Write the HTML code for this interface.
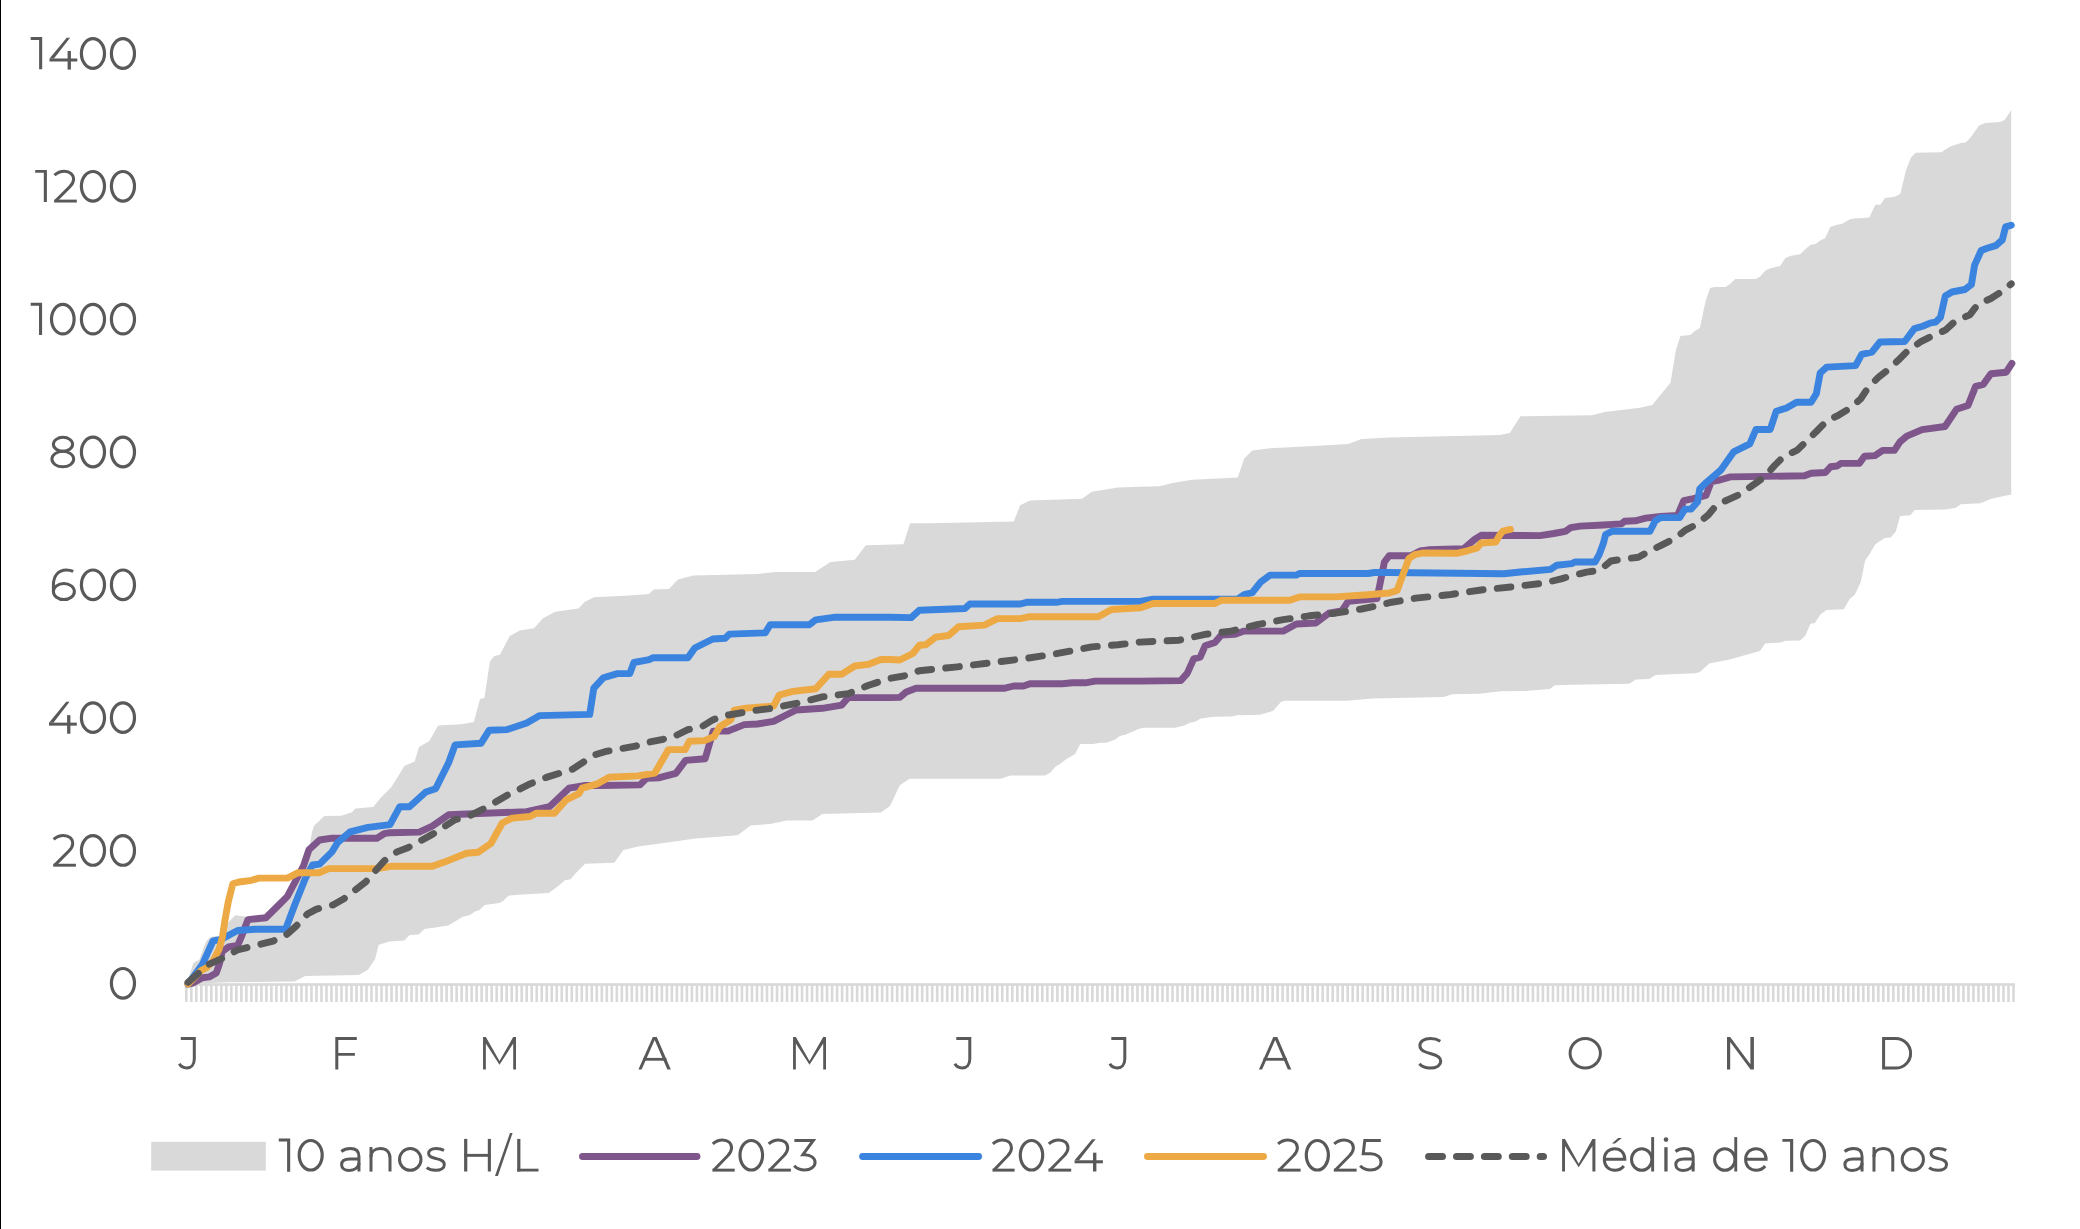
<!DOCTYPE html>
<html><head><meta charset="utf-8"><style>
html,body{margin:0;padding:0;background:#fff;}
body{width:2080px;height:1229px;overflow:hidden;position:relative;}
svg{position:absolute;left:0;top:0;display:block;}
text{font-family:"Liberation Sans",sans-serif;fill:#595959;}
</style></head><body>
<svg width="2080" height="1229" viewBox="0 0 2080 1229">
<rect x="0" y="0" width="2080" height="1229" fill="#fff"/>
<rect x="0" y="0" width="1" height="1229" fill="#000"/>

<polygon points="188.0,983.0 189.2,976.2 193.1,963.8 195.4,961.5 199.2,960.0 203.8,946.9 206.2,941.5 210.0,937.3 214.6,936.2 221.2,936.4 227.4,923.2 235.3,915.3 248.0,917.0 265.9,917.8 280.3,903.5 287.4,896.4 303.5,865.9 308.9,849.8 312.0,832.0 314.1,825.4 318.9,821.2 324.2,815.9 341.1,815.8 351.9,812.2 355.4,808.6 373.3,806.9 380.5,797.9 391.2,787.2 400.0,773.2 404.4,765.9 414.6,761.5 419.0,746.9 429.3,741.0 438.1,725.6 461.5,724.2 473.9,722.0 474.4,720.0 480.0,699.0 484.4,697.9 489.9,661.4 494.3,655.9 499.9,654.8 509.8,636.0 519.8,630.5 534.1,628.3 543.0,618.3 555.1,611.7 578.4,608.4 585.0,601.7 593.8,597.3 629.2,595.5 649.1,594.0 653.5,589.6 669.0,588.9 677.9,579.6 693.4,575.6 757.5,574.1 775.2,571.9 815.0,571.9 830.5,561.9 854.8,559.7 865.8,545.3 903.4,544.2 910.1,523.2 930.0,523.2 1013.7,521.6 1020.2,505.3 1030.0,500.5 1082.1,498.8 1091.8,491.7 1117.9,487.4 1140.0,486.8 1159.5,486.3 1172.6,483.0 1192.1,479.8 1237.7,477.5 1244.2,458.6 1252.3,450.5 1270.2,448.2 1309.3,446.2 1348.3,443.9 1361.4,439.1 1390.0,437.4 1500.0,435.1 1509.8,433.0 1520.5,416.3 1591.8,415.2 1604.8,411.9 1640.0,407.7 1652.2,405.1 1670.5,382.7 1675.9,350.0 1680.5,335.9 1690.2,335.1 1695.3,330.7 1699.9,327.9 1705.6,301.1 1710.1,288.0 1714.7,287.1 1725.5,287.1 1730.0,284.0 1735.2,278.9 1755.7,278.9 1760.2,276.6 1765.4,270.4 1770.5,268.3 1780.2,266.0 1785.3,258.1 1791.0,255.8 1800.1,254.2 1805.8,248.7 1810.3,245.1 1815.5,243.9 1820.6,240.2 1825.1,238.2 1830.3,227.1 1836.0,225.0 1842.2,223.7 1850.2,219.3 1855.9,218.2 1860.0,218.2 1869.3,217.5 1875.4,204.7 1880.3,204.7 1885.1,198.0 1894.9,196.8 1900.4,193.7 1905.9,170.5 1910.8,157.7 1915.7,152.8 1941.3,152.2 1949.8,146.7 1960.8,143.1 1965.7,142.5 1970.6,137.6 1979.1,125.4 1985.2,122.9 1999.9,122.0 2004.7,119.9 2011.2,110.1 2011.2,494.8 2006.0,495.6 1990.6,499.0 1980.4,503.3 1960.7,504.2 1955.6,507.9 1945.3,509.6 1914.6,510.1 1910.3,515.3 1900.1,516.1 1895.8,531.5 1890.7,537.5 1884.7,538.0 1875.3,544.3 1869.3,554.6 1865.1,560.5 1860.8,581.9 1854.8,594.7 1849.7,599.0 1843.7,609.2 1826.6,610.1 1820.6,614.3 1814.7,622.9 1810.4,623.7 1805.3,635.7 1800.1,640.5 1785.6,640.8 1780.5,642.5 1765.1,643.4 1760.0,651.1 1729.5,659.4 1709.2,663.5 1700.0,672.1 1695.5,673.2 1671.2,674.3 1655.7,674.9 1649.1,678.9 1635.8,679.4 1629.2,683.8 1571.7,684.7 1555.1,685.3 1549.6,689.1 1525.3,690.9 1501.0,691.3 1478.8,693.7 1452.3,694.2 1443.4,697.1 1372.7,698.6 1346.1,700.8 1284.2,700.8 1280.9,701.9 1273.2,710.8 1259.9,714.7 1240.0,715.2 1239.4,714.8 1231.0,716.4 1214.0,716.7 1204.5,718.0 1200.3,718.8 1195.0,721.7 1189.7,722.7 1184.4,725.6 1174.9,727.7 1144.2,727.7 1140.0,728.6 1125.2,734.7 1119.9,736.0 1114.6,739.7 1106.2,742.8 1099.8,742.8 1093.5,743.9 1080.2,743.9 1075.0,753.9 1066.0,759.2 1060.7,763.5 1055.4,766.8 1050.1,772.8 1044.8,775.6 1010.4,775.5 1000.7,778.8 909.5,778.8 899.8,785.3 890.0,806.0 880.9,812.5 822.3,814.1 812.5,820.6 786.5,820.6 770.2,823.9 750.7,825.5 737.7,835.3 695.3,838.5 672.5,841.8 638.1,846.4 623.4,850.0 614.3,862.8 585.1,863.7 575.9,872.9 570.5,879.3 565.0,880.2 557.7,886.6 548.5,893.0 517.5,894.8 508.4,895.7 502.9,901.2 499.2,903.0 484.6,904.9 479.1,910.3 475.5,911.2 470.0,914.9 462.7,916.7 455.4,921.3 448.1,925.5 437.1,927.3 424.3,929.1 418.8,934.6 409.7,935.0 404.2,940.5 389.6,941.4 378.7,944.7 375.1,959.0 368.0,969.8 359.0,975.1 305.3,976.0 294.6,981.4 228.3,982.3 188.0,984.0" fill="#D9D9D9"/>
<rect x="185" y="983.2" width="1830" height="2.6" fill="#D9D9D9"/>
<path d="M186.30 985V1001.9M191.31 985V1001.9M196.31 985V1001.9M201.32 985V1001.9M206.32 985V1001.9M211.33 985V1001.9M216.34 985V1001.9M221.34 985V1001.9M226.35 985V1001.9M231.35 985V1001.9M236.36 985V1001.9M241.37 985V1001.9M246.37 985V1001.9M251.38 985V1001.9M256.38 985V1001.9M261.39 985V1001.9M266.40 985V1001.9M271.40 985V1001.9M276.41 985V1001.9M281.41 985V1001.9M286.42 985V1001.9M291.43 985V1001.9M296.43 985V1001.9M301.44 985V1001.9M306.44 985V1001.9M311.45 985V1001.9M316.46 985V1001.9M321.46 985V1001.9M326.47 985V1001.9M331.47 985V1001.9M336.48 985V1001.9M341.49 985V1001.9M346.49 985V1001.9M351.50 985V1001.9M356.50 985V1001.9M361.51 985V1001.9M366.52 985V1001.9M371.52 985V1001.9M376.53 985V1001.9M381.54 985V1001.9M386.54 985V1001.9M391.55 985V1001.9M396.55 985V1001.9M401.56 985V1001.9M406.57 985V1001.9M411.57 985V1001.9M416.58 985V1001.9M421.58 985V1001.9M426.59 985V1001.9M431.60 985V1001.9M436.60 985V1001.9M441.61 985V1001.9M446.61 985V1001.9M451.62 985V1001.9M456.63 985V1001.9M461.63 985V1001.9M466.64 985V1001.9M471.64 985V1001.9M476.65 985V1001.9M481.66 985V1001.9M486.66 985V1001.9M491.67 985V1001.9M496.67 985V1001.9M501.68 985V1001.9M506.69 985V1001.9M511.69 985V1001.9M516.70 985V1001.9M521.70 985V1001.9M526.71 985V1001.9M531.72 985V1001.9M536.72 985V1001.9M541.73 985V1001.9M546.73 985V1001.9M551.74 985V1001.9M556.75 985V1001.9M561.75 985V1001.9M566.76 985V1001.9M571.76 985V1001.9M576.77 985V1001.9M581.78 985V1001.9M586.78 985V1001.9M591.79 985V1001.9M596.79 985V1001.9M601.80 985V1001.9M606.81 985V1001.9M611.81 985V1001.9M616.82 985V1001.9M621.82 985V1001.9M626.83 985V1001.9M631.84 985V1001.9M636.84 985V1001.9M641.85 985V1001.9M646.85 985V1001.9M651.86 985V1001.9M656.87 985V1001.9M661.87 985V1001.9M666.88 985V1001.9M671.88 985V1001.9M676.89 985V1001.9M681.90 985V1001.9M686.90 985V1001.9M691.91 985V1001.9M696.91 985V1001.9M701.92 985V1001.9M706.93 985V1001.9M711.93 985V1001.9M716.94 985V1001.9M721.94 985V1001.9M726.95 985V1001.9M731.96 985V1001.9M736.96 985V1001.9M741.97 985V1001.9M746.98 985V1001.9M751.98 985V1001.9M756.99 985V1001.9M761.99 985V1001.9M767.00 985V1001.9M772.01 985V1001.9M777.01 985V1001.9M782.02 985V1001.9M787.02 985V1001.9M792.03 985V1001.9M797.04 985V1001.9M802.04 985V1001.9M807.05 985V1001.9M812.05 985V1001.9M817.06 985V1001.9M822.07 985V1001.9M827.07 985V1001.9M832.08 985V1001.9M837.08 985V1001.9M842.09 985V1001.9M847.10 985V1001.9M852.10 985V1001.9M857.11 985V1001.9M862.11 985V1001.9M867.12 985V1001.9M872.13 985V1001.9M877.13 985V1001.9M882.14 985V1001.9M887.14 985V1001.9M892.15 985V1001.9M897.16 985V1001.9M902.16 985V1001.9M907.17 985V1001.9M912.17 985V1001.9M917.18 985V1001.9M922.19 985V1001.9M927.19 985V1001.9M932.20 985V1001.9M937.20 985V1001.9M942.21 985V1001.9M947.22 985V1001.9M952.22 985V1001.9M957.23 985V1001.9M962.23 985V1001.9M967.24 985V1001.9M972.25 985V1001.9M977.25 985V1001.9M982.26 985V1001.9M987.26 985V1001.9M992.27 985V1001.9M997.28 985V1001.9M1002.28 985V1001.9M1007.29 985V1001.9M1012.29 985V1001.9M1017.30 985V1001.9M1022.31 985V1001.9M1027.31 985V1001.9M1032.32 985V1001.9M1037.32 985V1001.9M1042.33 985V1001.9M1047.34 985V1001.9M1052.34 985V1001.9M1057.35 985V1001.9M1062.35 985V1001.9M1067.36 985V1001.9M1072.37 985V1001.9M1077.37 985V1001.9M1082.38 985V1001.9M1087.38 985V1001.9M1092.39 985V1001.9M1097.40 985V1001.9M1102.40 985V1001.9M1107.41 985V1001.9M1112.42 985V1001.9M1117.42 985V1001.9M1122.43 985V1001.9M1127.43 985V1001.9M1132.44 985V1001.9M1137.45 985V1001.9M1142.45 985V1001.9M1147.46 985V1001.9M1152.46 985V1001.9M1157.47 985V1001.9M1162.48 985V1001.9M1167.48 985V1001.9M1172.49 985V1001.9M1177.49 985V1001.9M1182.50 985V1001.9M1187.51 985V1001.9M1192.51 985V1001.9M1197.52 985V1001.9M1202.52 985V1001.9M1207.53 985V1001.9M1212.54 985V1001.9M1217.54 985V1001.9M1222.55 985V1001.9M1227.55 985V1001.9M1232.56 985V1001.9M1237.57 985V1001.9M1242.57 985V1001.9M1247.58 985V1001.9M1252.58 985V1001.9M1257.59 985V1001.9M1262.60 985V1001.9M1267.60 985V1001.9M1272.61 985V1001.9M1277.61 985V1001.9M1282.62 985V1001.9M1287.63 985V1001.9M1292.63 985V1001.9M1297.64 985V1001.9M1302.64 985V1001.9M1307.65 985V1001.9M1312.66 985V1001.9M1317.66 985V1001.9M1322.67 985V1001.9M1327.67 985V1001.9M1332.68 985V1001.9M1337.69 985V1001.9M1342.69 985V1001.9M1347.70 985V1001.9M1352.70 985V1001.9M1357.71 985V1001.9M1362.72 985V1001.9M1367.72 985V1001.9M1372.73 985V1001.9M1377.73 985V1001.9M1382.74 985V1001.9M1387.75 985V1001.9M1392.75 985V1001.9M1397.76 985V1001.9M1402.76 985V1001.9M1407.77 985V1001.9M1412.78 985V1001.9M1417.78 985V1001.9M1422.79 985V1001.9M1427.79 985V1001.9M1432.80 985V1001.9M1437.81 985V1001.9M1442.81 985V1001.9M1447.82 985V1001.9M1452.82 985V1001.9M1457.83 985V1001.9M1462.84 985V1001.9M1467.84 985V1001.9M1472.85 985V1001.9M1477.86 985V1001.9M1482.86 985V1001.9M1487.87 985V1001.9M1492.87 985V1001.9M1497.88 985V1001.9M1502.89 985V1001.9M1507.89 985V1001.9M1512.90 985V1001.9M1517.90 985V1001.9M1522.91 985V1001.9M1527.92 985V1001.9M1532.92 985V1001.9M1537.93 985V1001.9M1542.93 985V1001.9M1547.94 985V1001.9M1552.95 985V1001.9M1557.95 985V1001.9M1562.96 985V1001.9M1567.96 985V1001.9M1572.97 985V1001.9M1577.98 985V1001.9M1582.98 985V1001.9M1587.99 985V1001.9M1592.99 985V1001.9M1598.00 985V1001.9M1603.01 985V1001.9M1608.01 985V1001.9M1613.02 985V1001.9M1618.02 985V1001.9M1623.03 985V1001.9M1628.04 985V1001.9M1633.04 985V1001.9M1638.05 985V1001.9M1643.05 985V1001.9M1648.06 985V1001.9M1653.07 985V1001.9M1658.07 985V1001.9M1663.08 985V1001.9M1668.08 985V1001.9M1673.09 985V1001.9M1678.10 985V1001.9M1683.10 985V1001.9M1688.11 985V1001.9M1693.11 985V1001.9M1698.12 985V1001.9M1703.13 985V1001.9M1708.13 985V1001.9M1713.14 985V1001.9M1718.14 985V1001.9M1723.15 985V1001.9M1728.16 985V1001.9M1733.16 985V1001.9M1738.17 985V1001.9M1743.17 985V1001.9M1748.18 985V1001.9M1753.19 985V1001.9M1758.19 985V1001.9M1763.20 985V1001.9M1768.20 985V1001.9M1773.21 985V1001.9M1778.22 985V1001.9M1783.22 985V1001.9M1788.23 985V1001.9M1793.23 985V1001.9M1798.24 985V1001.9M1803.25 985V1001.9M1808.25 985V1001.9M1813.26 985V1001.9M1818.26 985V1001.9M1823.27 985V1001.9M1828.28 985V1001.9M1833.28 985V1001.9M1838.29 985V1001.9M1843.30 985V1001.9M1848.30 985V1001.9M1853.31 985V1001.9M1858.31 985V1001.9M1863.32 985V1001.9M1868.33 985V1001.9M1873.33 985V1001.9M1878.34 985V1001.9M1883.34 985V1001.9M1888.35 985V1001.9M1893.36 985V1001.9M1898.36 985V1001.9M1903.37 985V1001.9M1908.37 985V1001.9M1913.38 985V1001.9M1918.39 985V1001.9M1923.39 985V1001.9M1928.40 985V1001.9M1933.40 985V1001.9M1938.41 985V1001.9M1943.42 985V1001.9M1948.42 985V1001.9M1953.43 985V1001.9M1958.43 985V1001.9M1963.44 985V1001.9M1968.45 985V1001.9M1973.45 985V1001.9M1978.46 985V1001.9M1983.46 985V1001.9M1988.47 985V1001.9M1993.48 985V1001.9M1998.48 985V1001.9M2003.49 985V1001.9M2008.49 985V1001.9M2013.50 985V1001.9" stroke="#D9D9D9" stroke-width="2.6" fill="none"/>
<polyline points="188.0,984.0 193.0,983.0 202.3,977.7 209.2,976.9 216.2,973.0 219.2,964.6 222.3,951.5 228.5,946.9 237.7,945.4 242.3,934.6 248.0,919.6 265.9,917.8 280.3,903.5 287.4,896.4 303.5,865.9 308.9,849.8 319.6,840.0 332.2,838.2 376.9,838.2 384.1,833.7 390.0,832.7 419.3,832.1 432.3,826.2 448.6,814.8 526.7,811.6 549.5,806.7 569.0,788.2 585.3,785.5 601.6,785.5 640.0,784.9 646.5,778.3 659.5,777.7 675.8,773.4 685.6,760.4 705.1,758.8 713.2,731.1 727.9,731.1 744.2,724.6 757.2,724.0 773.5,721.4 783.2,716.5 796.2,710.0 822.3,708.3 841.8,705.1 848.3,697.6 890.0,697.6 899.8,697.4 906.3,691.9 916.0,688.3 1003.9,688.3 1013.7,686.0 1023.5,686.0 1030.0,683.7 1062.5,683.7 1072.3,682.8 1085.3,682.8 1095.1,681.1 1140.0,681.1 1180.7,680.6 1187.2,673.4 1193.7,658.8 1200.2,657.2 1205.1,645.8 1214.9,642.5 1221.4,635.0 1234.4,634.4 1244.2,631.1 1283.2,631.1 1296.3,624.0 1315.8,623.0 1328.8,613.2 1341.8,610.9 1348.3,601.2 1377.0,598.6 1384.4,562.0 1389.3,555.7 1410.8,555.7 1420.0,551.0 1428.4,549.8 1463.5,548.8 1474.6,539.5 1481.1,535.3 1540.0,535.6 1553.7,533.5 1565.4,531.3 1570.7,527.6 1580.2,526.1 1603.5,525.0 1621.4,523.9 1624.6,521.3 1635.2,520.8 1645.8,518.1 1660.6,516.5 1677.5,515.5 1683.8,500.7 1693.4,498.6 1706.0,495.4 1711.3,481.6 1719.8,480.0 1730.4,476.9 1804.6,475.8 1811.1,473.2 1825.4,472.5 1830.6,466.7 1837.1,466.0 1841.0,463.4 1859.3,463.4 1864.5,456.3 1874.9,455.6 1882.7,450.4 1894.4,450.4 1900.0,441.9 1906.8,436.1 1922.1,429.6 1945.0,426.5 1956.5,409.3 1968.0,405.5 1975.6,386.4 1983.2,384.5 1990.9,373.7 2006.2,372.2 2011.9,363.4" fill="none" stroke="#7E568C" stroke-width="6.9" stroke-linejoin="round" stroke-linecap="round" />
<polyline points="188.0,984.0 202.3,964.6 213.1,940.8 221.0,939.5 231.5,933.8 237.7,930.5 255.2,929.2 285.6,929.2 294.6,905.3 305.3,878.5 312.5,865.0 319.6,864.1 332.2,851.6 337.5,842.7 350.1,831.9 368.0,827.4 382.3,825.6 390.0,824.6 399.8,806.7 409.5,806.7 425.8,792.0 435.6,788.8 448.6,762.8 455.1,744.9 481.1,743.2 489.3,730.2 507.2,729.6 526.7,723.0 539.7,715.6 589.7,714.4 593.8,688.1 603.5,677.7 617.3,673.6 629.8,673.6 633.9,662.5 649.2,659.7 653.3,657.7 687.9,657.7 694.8,648.0 701.7,644.5 712.8,639.0 725.2,638.3 729.4,634.1 765.3,632.8 770.2,624.7 809.3,624.7 815.8,619.8 835.3,617.2 890.0,617.2 911.2,617.6 919.3,610.2 964.9,608.5 969.8,604.0 1020.2,604.0 1026.7,602.3 1056.0,602.3 1062.5,601.4 1140.0,601.4 1153.0,599.2 1237.7,599.2 1244.2,594.7 1252.3,592.7 1260.4,582.3 1270.2,575.1 1296.3,575.1 1299.5,573.5 1367.9,573.5 1374.4,572.5 1390.0,572.5 1503.9,573.7 1520.2,572.0 1550.6,569.4 1556.9,565.2 1571.7,563.6 1574.9,562.0 1595.0,562.0 1599.2,554.6 1603.5,543.0 1605.6,534.5 1611.9,531.3 1650.0,531.3 1655.3,520.8 1660.6,517.6 1679.6,517.6 1684.9,509.1 1691.2,509.1 1697.6,501.7 1699.7,489.0 1705.0,483.7 1713.5,476.3 1720.9,470.0 1733.6,451.9 1749.8,443.8 1755.9,429.5 1770.2,429.5 1776.3,411.2 1786.5,408.0 1796.6,402.3 1811.1,402.2 1816.3,393.8 1820.2,373.0 1826.7,367.1 1855.6,365.6 1861.7,354.3 1871.9,352.2 1880.0,342.0 1904.7,341.5 1914.4,328.6 1922.6,326.2 1930.7,322.9 1935.6,322.1 1940.5,317.2 1945.3,296.0 1951.9,292.0 1964.9,289.5 1971.4,284.6 1974.6,265.1 1981.2,250.5 1987.7,248.0 1995.8,245.6 2002.3,239.9 2005.6,226.9 2011.3,225.2" fill="none" stroke="#3A84DF" stroke-width="6.9" stroke-linejoin="round" stroke-linecap="round" />
<polyline points="188.0,984.0 200.8,970.8 206.9,967.5 213.1,960.8 219.2,949.2 222.3,937.7 225.0,920.0 228.3,901.7 232.8,883.8 239.0,882.0 251.6,880.3 258.8,878.1 287.4,878.1 298.2,872.7 319.6,872.7 328.6,868.6 376.9,868.6 391.2,866.3 432.3,866.3 448.6,860.4 466.5,853.3 477.9,852.3 490.9,843.5 502.3,823.0 512.1,818.1 530.0,816.5 536.5,813.2 554.4,813.2 565.8,800.2 578.8,793.7 582.1,788.2 596.6,784.2 609.0,777.3 638.1,775.9 654.7,773.2 668.5,749.6 685.1,749.6 689.3,741.3 704.5,740.6 714.2,736.5 719.7,726.8 730.8,719.9 734.2,710.2 746.0,708.1 773.6,706.1 779.2,695.0 793.0,691.4 815.8,688.8 828.8,674.2 841.8,674.2 854.8,666.0 867.9,664.4 880.9,659.5 890.0,659.5 899.8,660.0 912.8,653.5 919.3,645.3 925.8,644.7 935.6,637.2 948.6,635.5 958.4,626.8 984.4,625.1 997.4,618.6 1020.2,618.6 1030.0,616.7 1098.3,616.7 1111.4,609.5 1140.0,607.9 1153.0,603.5 1214.9,603.5 1221.4,600.2 1289.7,600.2 1299.5,596.9 1335.3,596.9 1367.9,594.7 1389.3,593.0 1397.1,590.5 1408.8,558.6 1414.7,554.7 1422.5,553.0 1457.7,553.2 1467.4,550.8 1477.2,547.9 1481.1,543.0 1495.7,542.0 1499.6,535.2 1503.0,531.0 1510.4,529.3" fill="none" stroke="#EDA944" stroke-width="6.9" stroke-linejoin="round" stroke-linecap="round" />
<polyline points="188.0,982.3 208.6,964.4 224.8,957.2 237.3,950.0 251.6,946.5 273.1,941.1 287.4,934.0 296.4,925.9 307.4,914.0 316.5,909.1 333.0,904.9 343.9,898.8 354.9,890.2 365.9,881.7 376.8,869.2 384.1,861.0 396.9,851.9 407.9,847.7 432.3,834.4 455.1,819.7 468.1,816.5 487.7,806.7 507.2,795.3 530.0,783.9 546.3,777.4 572.3,769.3 593.8,755.2 604.9,751.7 618.7,749.0 635.3,746.2 646.4,742.7 663.0,739.3 674.0,736.5 687.9,729.6 701.7,726.8 712.8,719.9 723.8,715.8 740.4,713.0 751.5,710.9 768.1,708.8 796.2,703.5 822.3,696.9 848.3,693.7 867.9,685.5 890.0,678.4 903.0,676.2 919.3,670.7 955.1,667.1 987.7,663.2 1026.7,658.3 1052.8,654.4 1091.8,646.9 1117.9,644.7 1140.0,642.1 1179.1,640.2 1205.1,634.4 1231.1,631.1 1257.2,624.6 1283.2,619.7 1309.3,615.8 1335.3,613.2 1361.4,609.0 1380.9,605.1 1390.0,602.5 1416.0,598.1 1448.6,594.8 1481.1,590.0 1513.7,586.7 1543.2,583.2 1561.2,578.9 1571.7,575.8 1586.5,572.1 1599.2,570.5 1610.9,561.0 1624.6,558.8 1638.4,557.3 1648.9,551.4 1661.6,545.1 1674.3,538.7 1686.0,529.8 1696.5,524.5 1708.2,515.0 1716.6,504.9 1729.3,499.1 1738.8,494.9 1746.0,490.0 1764.3,477.1 1774.7,465.4 1783.8,456.3 1796.8,450.4 1805.9,441.9 1817.6,430.2 1826.7,421.1 1838.4,415.3 1850.2,408.1 1860.6,399.0 1868.4,387.3 1878.8,376.9 1889.2,369.0 1899.8,358.7 1907.9,350.6 1920.9,341.6 1932.3,335.9 1945.3,330.2 1955.1,321.3 1969.8,314.8 1977.9,304.2 1990.9,298.5 2002.3,291.2 2011.3,283.8" fill="none" stroke="#595959" stroke-width="6.9" stroke-linejoin="round" stroke-linecap="round" stroke-dasharray="13.7 14.2"/>
<g aria-label="0"><title>0</title>
<ellipse cx="122.95" cy="983.30" rx="11.55" ry="14.80" fill="none" stroke="#595959" stroke-width="3.2"/>
</g>
<g aria-label="200"><title>200</title>
<path d="M 53.60 839.37 C 56.30 836.87 59.70 835.47 63.50 835.47 C 69.00 835.47 72.70 838.77 72.70 843.47 C 72.70 846.47 71.30 848.67 68.80 851.07 L 54.80 865.07" fill="none" stroke="#595959" stroke-width="3.0"/>
<rect x="53.20" y="863.77" width="22.70" height="2.90" fill="#595959"/>
<ellipse cx="92.95" cy="850.47" rx="11.55" ry="14.80" fill="none" stroke="#595959" stroke-width="3.2"/>
<ellipse cx="122.95" cy="850.47" rx="11.55" ry="14.80" fill="none" stroke="#595959" stroke-width="3.2"/>
</g>
<g aria-label="400"><title>400</title>
<polygon points="66.20,701.84 69.60,701.84 53.40,722.74 49.00,722.74" fill="#595959"/>
<rect x="49.00" y="722.64" width="27.80" height="3.00" fill="#595959"/>
<rect x="67.10" y="715.14" width="3.30" height="18.60" fill="#595959"/>
<ellipse cx="92.95" cy="717.64" rx="11.55" ry="14.80" fill="none" stroke="#595959" stroke-width="3.2"/>
<ellipse cx="122.95" cy="717.64" rx="11.55" ry="14.80" fill="none" stroke="#595959" stroke-width="3.2"/>
</g>
<g aria-label="600"><title>600</title>
<path d="M 73.20 571.41 C 71.00 570.41 68.80 570.01 66.20 570.01 C 58.30 570.01 53.40 576.01 53.40 585.01 L 53.40 591.51" fill="none" stroke="#595959" stroke-width="3.0"/>
<ellipse cx="63.90" cy="591.56" rx="10.50" ry="8.05" fill="none" stroke="#595959" stroke-width="3.0"/>
<ellipse cx="92.95" cy="584.81" rx="11.55" ry="14.80" fill="none" stroke="#595959" stroke-width="3.2"/>
<ellipse cx="122.95" cy="584.81" rx="11.55" ry="14.80" fill="none" stroke="#595959" stroke-width="3.2"/>
</g>
<g aria-label="800"><title>800</title>
<ellipse cx="63.00" cy="444.33" rx="9.60" ry="7.04" fill="none" stroke="#595959" stroke-width="3.0"/>
<ellipse cx="62.80" cy="459.12" rx="10.90" ry="7.75" fill="none" stroke="#595959" stroke-width="3.0"/>
<ellipse cx="92.95" cy="451.98" rx="11.55" ry="14.80" fill="none" stroke="#595959" stroke-width="3.2"/>
<ellipse cx="122.95" cy="451.98" rx="11.55" ry="14.80" fill="none" stroke="#595959" stroke-width="3.2"/>
</g>
<g aria-label="1000"><title>1000</title>
<path d="M30.70 302.75H42.10V334.95H39.00V305.65H30.70Z" fill="#595959"/>
<ellipse cx="62.80" cy="319.15" rx="11.30" ry="14.80" fill="none" stroke="#595959" stroke-width="3.2"/>
<ellipse cx="92.95" cy="319.15" rx="11.55" ry="14.80" fill="none" stroke="#595959" stroke-width="3.2"/>
<ellipse cx="122.95" cy="319.15" rx="11.55" ry="14.80" fill="none" stroke="#595959" stroke-width="3.2"/>
</g>
<g aria-label="1200"><title>1200</title>
<path d="M35.20 169.92H46.90V202.12H43.80V172.82H35.20Z" fill="#595959"/>
<path d="M 54.50 175.22 C 57.20 172.72 60.60 171.32 64.40 171.32 C 69.90 171.32 73.60 174.62 73.60 179.32 C 73.60 182.32 72.20 184.52 69.70 186.92 L 55.70 200.92" fill="none" stroke="#595959" stroke-width="3.0"/>
<rect x="54.10" y="199.62" width="22.70" height="2.90" fill="#595959"/>
<ellipse cx="92.95" cy="186.32" rx="11.55" ry="14.80" fill="none" stroke="#595959" stroke-width="3.2"/>
<ellipse cx="122.95" cy="186.32" rx="11.55" ry="14.80" fill="none" stroke="#595959" stroke-width="3.2"/>
</g>
<g aria-label="1400"><title>1400</title>
<path d="M30.70 37.09H42.20V69.29H39.10V39.99H30.70Z" fill="#595959"/>
<polygon points="66.70,37.69 70.10,37.69 53.90,58.59 49.50,58.59" fill="#595959"/>
<rect x="49.50" y="58.49" width="27.80" height="3.00" fill="#595959"/>
<rect x="67.60" y="50.99" width="3.30" height="18.60" fill="#595959"/>
<ellipse cx="92.95" cy="53.49" rx="11.55" ry="14.80" fill="none" stroke="#595959" stroke-width="3.2"/>
<ellipse cx="122.95" cy="53.49" rx="11.55" ry="14.80" fill="none" stroke="#595959" stroke-width="3.2"/>
</g>
<g aria-label="J"><title>J</title>
<path d="M180.80 1038.55H194.30V1059C194.30 1065 190.80 1068 186.80 1068C183.30 1068 180.80 1066.3 179.30 1063.8" fill="none" stroke="#595959" stroke-width="3"/>
</g>
<g aria-label="F"><title>F</title>
<path d="M335.3 1037.1H356.8V1039.9H338.3V1053H354.9V1055.8H338.3V1069.5H335.3Z" fill="#595959"/>
</g>
<g aria-label="M"><title>M</title>
<polygon points="483.05,1069.50 483.05,1037.10 485.85,1037.10 499.50,1061.10 513.20,1037.10 516.00,1037.10 516.00,1069.50 513.20,1069.50 513.20,1043.50 499.50,1064.80 485.85,1043.50 485.85,1069.50" fill="#595959"/>
</g>
<g aria-label="A"><title>A</title>
<polygon points="638.40,1069.50 652.80,1037.10 656.80,1037.10 670.80,1069.50 667.40,1069.50 654.70,1040.07 641.60,1069.50" fill="#595959"/>
<rect x="643.00" y="1057.9" width="23.4" height="2.8" fill="#595959"/>
</g>
<g aria-label="M"><title>M</title>
<polygon points="793.05,1069.50 793.05,1037.10 795.85,1037.10 809.50,1061.10 823.20,1037.10 826.00,1037.10 826.00,1069.50 823.20,1069.50 823.20,1043.50 809.50,1064.80 795.85,1043.50 795.85,1069.50" fill="#595959"/>
</g>
<g aria-label="J"><title>J</title>
<path d="M956.30 1038.55H969.80V1059C969.80 1065 966.30 1068 962.30 1068C958.80 1068 956.30 1066.3 954.80 1063.8" fill="none" stroke="#595959" stroke-width="3"/>
</g>
<g aria-label="J"><title>J</title>
<path d="M1111.30 1038.55H1124.80V1059C1124.80 1065 1121.30 1068 1117.30 1068C1113.80 1068 1111.30 1066.3 1109.80 1063.8" fill="none" stroke="#595959" stroke-width="3"/>
</g>
<g aria-label="A"><title>A</title>
<polygon points="1258.90,1069.50 1273.30,1037.10 1277.30,1037.10 1291.30,1069.50 1287.90,1069.50 1275.20,1040.07 1262.10,1069.50" fill="#595959"/>
<rect x="1263.50" y="1057.9" width="23.4" height="2.8" fill="#595959"/>
</g>
<g aria-label="S"><title>S</title>
<path d="M1440.3 1041.2C1437.5 1039.4 1434 1038.55 1430.5 1038.55C1424 1038.55 1419.9 1041.5 1419.9 1045.6C1419.9 1050.8 1425.5 1052.3 1431 1053.8C1437 1055.4 1440.7 1057.2 1440.7 1061C1440.7 1065.3 1436.5 1068.1 1430 1068.1C1425.3 1068.1 1421.6 1066.4 1419.4 1063.8" fill="none" stroke="#595959" stroke-width="3"/>
</g>
<g aria-label="O"><title>O</title>
<ellipse cx="1585.25" cy="1053.3" rx="15.15" ry="14.7" fill="none" stroke="#595959" stroke-width="3"/>
</g>
<g aria-label="N"><title>N</title>
<polygon points="1727.00,1069.50 1727.00,1037.10 1730.20,1037.10 1750.40,1064.30 1750.40,1037.10 1753.90,1037.10 1753.90,1069.50 1750.60,1069.50 1730.20,1042.00 1730.20,1069.50" fill="#595959"/>
</g>
<g aria-label="D"><title>D</title>
<path d="M1883.6 1038.5H1895.8C1903.97 1038.5 1910.6 1045.13 1910.6 1053.3C1910.6 1061.47 1903.97 1068.1 1895.8 1068.1H1883.6Z" fill="none" stroke="#595959" stroke-width="3"/>
</g>
<rect x="151.2" y="1141.8" width="114.6" height="28.8" fill="#D9D9D9"/>
<line x1="582.5" y1="1156.5" x2="697" y2="1156.5" stroke="#7E568C" stroke-width="6.9" stroke-linecap="round"/>
<line x1="862.6" y1="1156.5" x2="978.6" y2="1156.5" stroke="#3A84DF" stroke-width="6.9" stroke-linecap="round"/>
<line x1="1147.5" y1="1156.5" x2="1263.5" y2="1156.5" stroke="#EDA944" stroke-width="6.9" stroke-linecap="round"/>
<line x1="1428.7" y1="1156.5" x2="1543.4" y2="1156.5" stroke="#595959" stroke-width="7.2" stroke-linecap="round" stroke-dasharray="13.7 14.2"/>
<g aria-label="10 anos H/L"><title>10 anos H/L</title>
<path d="M278.75 1138.50H290.20V1171.80H287.10V1141.40H278.75Z" fill="#595959"/>
<ellipse cx="310.70" cy="1155.25" rx="11.50" ry="14.75" fill="none" stroke="#595959" stroke-width="3.2"/>
<path d="M 341.30 1151.50 C 343.80 1149.60 346.80 1148.60 350.30 1148.60 C 355.80 1148.60 358.95 1151.50 358.95 1156.50 L 358.95 1171.60" fill="none" stroke="#595959" stroke-width="3.0"/>
<path d="M 358.95 1159.00 L 350.00 1159.00 C 344.50 1159.00 341.60 1161.30 341.60 1164.70 C 341.60 1168.20 344.60 1170.40 349.20 1170.40 C 354.50 1170.40 358.95 1167.50 358.95 1163.00" fill="none" stroke="#595959" stroke-width="3.0"/>
<path d="M 371.00 1147.06 L 371.00 1171.60" fill="none" stroke="#595959" stroke-width="3.0"/>
<path d="M 371.00 1157.00 C 371.00 1151.80 374.80 1148.60 380.30 1148.60 C 386.20 1148.60 390.00 1152.00 390.00 1158.00 L 390.00 1171.60" fill="none" stroke="#595959" stroke-width="3.0"/>
<ellipse cx="410.25" cy="1159.40" rx="10.75" ry="10.90" fill="none" stroke="#595959" stroke-width="3.0"/>
<path d="M 444.00 1150.40 C 441.60 1149.10 438.80 1148.50 436.00 1148.50 C 431.30 1148.50 428.60 1150.60 428.60 1153.50 C 428.60 1156.90 432.50 1157.70 436.20 1158.60 C 440.60 1159.60 444.30 1160.60 444.30 1164.40 C 444.30 1168.00 440.90 1170.30 435.60 1170.30 C 431.80 1170.30 428.70 1169.20 426.70 1167.60" fill="none" stroke="#595959" stroke-width="3.0"/>
<rect x="464.10" y="1138.90" width="3.20" height="32.60" fill="#595959"/>
<rect x="487.80" y="1138.90" width="3.10" height="32.60" fill="#595959"/>
<rect x="464.10" y="1153.90" width="26.80" height="2.90" fill="#595959"/>
<polygon points="510.00,1132.90 512.60,1132.90 497.90,1175.90 495.00,1175.90" fill="#595959"/>
<rect x="517.20" y="1138.90" width="3.20" height="32.60" fill="#595959"/>
<rect x="517.20" y="1168.70" width="21.30" height="2.80" fill="#595959"/>
</g>
<g aria-label="2023"><title>2023</title>
<path d="M 712.78 1143.88 C 715.44 1141.34 718.78 1139.92 722.51 1139.92 C 727.92 1139.92 731.55 1143.27 731.55 1148.04 C 731.55 1151.09 730.18 1153.32 727.72 1155.76 L 713.96 1169.98" fill="none" stroke="#595959" stroke-width="3.0"/>
<rect x="712.39" y="1168.66" width="22.31" height="2.94" fill="#595959"/>
<ellipse cx="751.30" cy="1155.25" rx="11.30" ry="14.75" fill="none" stroke="#595959" stroke-width="3.2"/>
<path d="M 768.70 1143.88 C 771.38 1141.34 774.77 1139.92 778.55 1139.92 C 784.03 1139.92 787.71 1143.27 787.71 1148.04 C 787.71 1151.09 786.32 1153.32 783.83 1155.76 L 769.89 1169.98" fill="none" stroke="#595959" stroke-width="3.0"/>
<rect x="768.30" y="1168.66" width="22.60" height="2.94" fill="#595959"/>
<path d="M 794.40 1140.45 L 813.30 1140.45 L 802.90 1154.65 L 804.80 1154.65 C 810.50 1154.65 815.10 1158.10 815.10 1162.30 C 815.10 1166.60 810.50 1170.00 804.80 1170.00 C 800.60 1170.00 796.60 1168.40 794.20 1165.80" fill="none" stroke="#595959" stroke-width="3.0"/>
</g>
<g aria-label="2024"><title>2024</title>
<path d="M 992.87 1143.88 C 995.50 1141.34 998.82 1139.92 1002.52 1139.92 C 1007.88 1139.92 1011.48 1143.27 1011.48 1148.04 C 1011.48 1151.09 1010.12 1153.32 1007.68 1155.76 L 994.04 1169.98" fill="none" stroke="#595959" stroke-width="3.0"/>
<rect x="992.48" y="1168.66" width="22.12" height="2.94" fill="#595959"/>
<ellipse cx="1031.50" cy="1155.25" rx="11.20" ry="14.75" fill="none" stroke="#595959" stroke-width="3.2"/>
<path d="M 1048.80 1143.88 C 1051.52 1141.34 1054.93 1139.92 1058.75 1139.92 C 1064.27 1139.92 1067.99 1143.27 1067.99 1148.04 C 1067.99 1151.09 1066.58 1153.32 1064.07 1155.76 L 1050.01 1169.98" fill="none" stroke="#595959" stroke-width="3.0"/>
<rect x="1048.40" y="1168.66" width="22.80" height="2.94" fill="#595959"/>
<polygon points="1092.11,1139.20 1095.57,1139.20 1079.08,1160.36 1074.60,1160.36" fill="#595959"/>
<rect x="1074.60" y="1160.26" width="28.30" height="3.04" fill="#595959"/>
<rect x="1093.03" y="1152.67" width="3.36" height="18.83" fill="#595959"/>
</g>
<g aria-label="2025"><title>2025</title>
<path d="M 1278.11 1143.88 C 1280.83 1141.34 1284.26 1139.92 1288.09 1139.92 C 1293.64 1139.92 1297.37 1143.27 1297.37 1148.04 C 1297.37 1151.09 1295.96 1153.32 1293.44 1155.76 L 1279.32 1169.98" fill="none" stroke="#595959" stroke-width="3.0"/>
<rect x="1277.71" y="1168.66" width="22.89" height="2.94" fill="#595959"/>
<ellipse cx="1317.35" cy="1155.25" rx="11.05" ry="14.75" fill="none" stroke="#595959" stroke-width="3.2"/>
<path d="M 1334.20 1143.88 C 1336.92 1141.34 1340.33 1139.92 1344.15 1139.92 C 1349.67 1139.92 1353.39 1143.27 1353.39 1148.04 C 1353.39 1151.09 1351.98 1153.32 1349.47 1155.76 L 1335.41 1169.98" fill="none" stroke="#595959" stroke-width="3.0"/>
<rect x="1333.80" y="1168.66" width="22.80" height="2.94" fill="#595959"/>
<path d="M 1380.80 1140.60 L 1364.80 1140.60 L 1363.20 1153.85 L 1370.80 1153.85 C 1376.80 1153.85 1381.10 1157.30 1381.10 1161.90 C 1381.10 1166.60 1376.50 1170.00 1370.50 1170.00 C 1366.30 1170.00 1362.60 1168.40 1360.20 1165.80" fill="none" stroke="#595959" stroke-width="3.0"/>
</g>
<g aria-label="Média de 10 anos"><title>Média de 10 anos</title>
<polygon points="1562.10,1171.50 1562.10,1139.00 1565.00,1139.00 1578.70,1163.80 1592.40,1139.00 1595.40,1139.00 1595.40,1171.50 1592.40,1171.50 1592.40,1145.90 1578.70,1167.30 1565.00,1145.90 1565.00,1171.50" fill="#595959"/>
<path d="M 1604.30 1159.20 L 1624.80 1159.20 C 1624.80 1152.60 1620.30 1148.70 1614.55 1148.70 C 1608.40 1148.70 1604.30 1153.40 1604.30 1159.50 C 1604.30 1165.90 1608.60 1170.30 1614.80 1170.30 C 1618.80 1170.30 1621.80 1168.60 1623.80 1166.00" fill="none" stroke="#595959" stroke-width="3.0"/>
<polygon points="1612.00,1143.50 1615.00,1143.50 1621.90,1137.90 1618.20,1137.90" fill="#595959"/>
<ellipse cx="1641.70" cy="1159.50" rx="10.20" ry="10.80" fill="none" stroke="#595959" stroke-width="3.0"/>
<rect x="1651.20" y="1137.10" width="2.90" height="34.40" fill="#595959"/>
<rect x="1664.30" y="1147.20" width="3.30" height="24.30" fill="#595959"/>
<circle cx="1666.00" cy="1139.60" r="2.30" fill="#595959"/>
<path d="M 1675.50 1151.50 C 1678.00 1149.60 1681.00 1148.60 1684.50 1148.60 C 1690.00 1148.60 1693.15 1151.50 1693.15 1156.50 L 1693.15 1171.60" fill="none" stroke="#595959" stroke-width="3.0"/>
<path d="M 1693.15 1159.00 L 1684.20 1159.00 C 1678.70 1159.00 1675.80 1161.30 1675.80 1164.70 C 1675.80 1168.20 1678.80 1170.40 1683.40 1170.40 C 1688.70 1170.40 1693.15 1167.50 1693.15 1163.00" fill="none" stroke="#595959" stroke-width="3.0"/>
<ellipse cx="1724.80" cy="1159.50" rx="10.20" ry="10.80" fill="none" stroke="#595959" stroke-width="3.0"/>
<rect x="1734.30" y="1137.10" width="2.90" height="34.40" fill="#595959"/>
<path d="M 1745.60 1159.20 L 1766.10 1159.20 C 1766.10 1152.60 1761.60 1148.70 1755.85 1148.70 C 1749.70 1148.70 1745.60 1153.40 1745.60 1159.50 C 1745.60 1165.90 1749.90 1170.30 1756.10 1170.30 C 1760.10 1170.30 1763.10 1168.60 1765.10 1166.00" fill="none" stroke="#595959" stroke-width="3.0"/>
<path d="M1782.40 1138.90H1793.20V1171.80H1790.10V1141.80H1782.40Z" fill="#595959"/>
<ellipse cx="1813.10" cy="1155.25" rx="11.40" ry="14.75" fill="none" stroke="#595959" stroke-width="3.2"/>
<path d="M 1844.59 1151.50 C 1847.06 1149.60 1850.03 1148.60 1853.49 1148.60 C 1858.94 1148.60 1862.05 1151.50 1862.05 1156.50 L 1862.05 1171.60" fill="none" stroke="#595959" stroke-width="3.0"/>
<path d="M 1862.05 1159.00 L 1853.20 1159.00 C 1847.75 1159.00 1844.88 1161.30 1844.88 1164.70 C 1844.88 1168.20 1847.85 1170.40 1852.41 1170.40 C 1857.65 1170.40 1862.05 1167.50 1862.05 1163.00" fill="none" stroke="#595959" stroke-width="3.0"/>
<path d="M 1873.98 1147.06 L 1873.98 1171.60" fill="none" stroke="#595959" stroke-width="3.0"/>
<path d="M 1873.98 1157.00 C 1873.98 1151.80 1877.74 1148.60 1883.18 1148.60 C 1889.02 1148.60 1892.78 1152.00 1892.78 1158.00 L 1892.78 1171.60" fill="none" stroke="#595959" stroke-width="3.0"/>
<ellipse cx="1912.82" cy="1159.40" rx="10.64" ry="10.90" fill="none" stroke="#595959" stroke-width="3.0"/>
<path d="M 1946.22 1150.40 C 1943.84 1149.10 1941.07 1148.50 1938.30 1148.50 C 1933.65 1148.50 1930.98 1150.60 1930.98 1153.50 C 1930.98 1156.90 1934.84 1157.70 1938.50 1158.60 C 1942.86 1159.60 1946.52 1160.60 1946.52 1164.40 C 1946.52 1168.00 1943.15 1170.30 1937.91 1170.30 C 1934.15 1170.30 1931.08 1169.20 1929.10 1167.60" fill="none" stroke="#595959" stroke-width="3.0"/>
</g>
</svg></body></html>
